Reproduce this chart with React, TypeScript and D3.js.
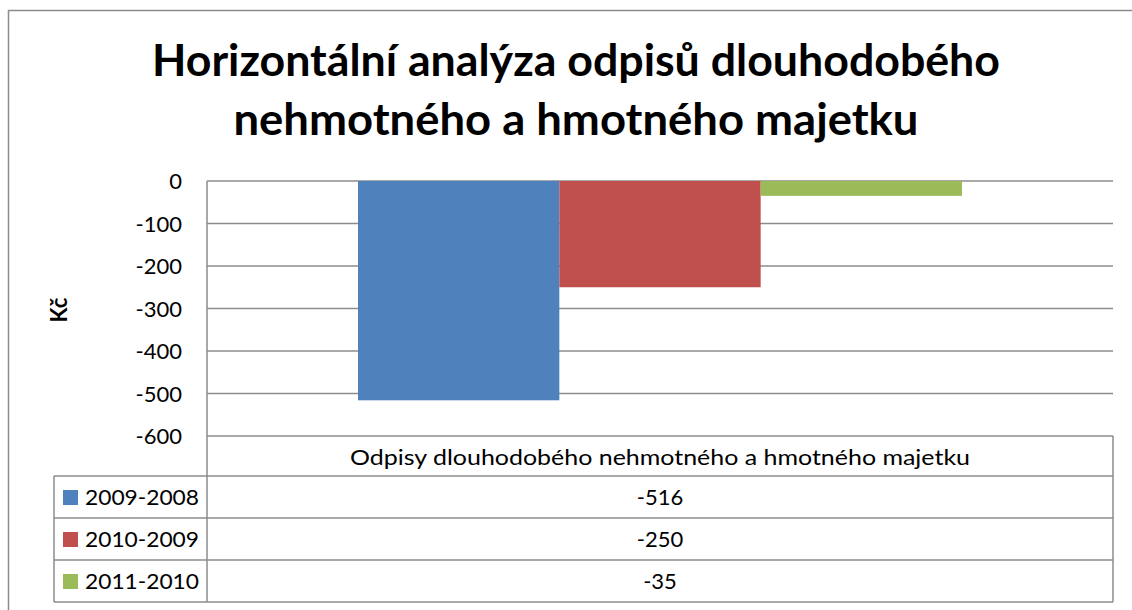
import React from 'react';
import * as d3 from 'd3';

// data
const categories = ['Odpisy dlouhodobého nehmotného a hmotného majetku'];
const seriesNames = ['2009-2008', '2010-2009', '2011-2010'];
const seriesValues = [-516, -250, -35];
const seriesColors = ['#4F81BD', '#C0504D', '#9BBB59'];
const yTicks = [0, -100, -200, -300, -400, -500, -600];
const titleLines = ['Horizontální analýza odpisů dlouhodobého', 'nehmotného a hmotného majetku'];

const font = 'Lato, "Open Sans", "DejaVu Sans", sans-serif';
const gridColor = '#8c8c8c';
const labelSize = 22;

function App() {
    const width = 1132;
    const height = 610;

    const plotLeft = 207;
    const plotRight = 1113;
    const plotTop = 181;
    const plotBottom = 436;

    const y = d3.scaleLinear().domain([-600, 0]).range([plotBottom, plotTop]);

    const x0 = d3.scaleBand().domain(categories).range([plotLeft, plotRight]).padding(0);
    const bw = x0.bandwidth();
    const x1 = d3.scaleBand().domain(seriesNames).range([bw / 6, bw * 5 / 6]).padding(0);

    // table below the plot
    const headerBottom = 476;
    const rowH = 42;
    const legendLeft = 54;
    const tableBottom = headerBottom + rowH * seriesNames.length;
    const catCenter = (x0(categories[0]) ?? 0) + bw / 2;

    return (
        <svg width={width} height={height} style={{ position: 'absolute', left: 0, top: 0, background: '#fff' }}>
            <rect x={8.5} y={10.5} width={1140} height={620} fill="#fff" stroke={gridColor} strokeWidth={1.5} />

            {titleLines.map((t, i) => (
                <text key={t} x={576} y={76 + i * 59} textAnchor="middle" fontFamily={font} fontWeight="bold"
                    fontSize={44} fill="#000" textLength={i === 0 ? 848 : 685} lengthAdjust="spacingAndGlyphs">
                    {t}
                </text>
            ))}

            {yTicks.map(t => (
                <g key={t}>
                    <line x1={plotLeft} x2={plotRight} y1={y(t)} y2={y(t)} stroke={gridColor} strokeWidth={1.5} />
                    <text x={182} y={y(t) + 8} textAnchor="end" fontFamily={font} fontSize={labelSize} fill="#000">{t}</text>
                </g>
            ))}

            <text transform={`translate(67, 310) rotate(-90)`} textAnchor="middle" fontFamily={font}
                fontWeight="bold" fontSize={labelSize} fill="#000">Kč</text>

            {categories.map(c => (
                <g key={c} transform={`translate(${x0(c)},0)`}>
                    {seriesNames.map((s, i) => (
                        <rect key={s} x={x1(s)} width={x1.bandwidth()} y={y(0)}
                            height={y(seriesValues[i]) - y(0)} fill={seriesColors[i]} />
                    ))}
                </g>
            ))}

            {/* data table */}
            <line x1={plotLeft} x2={plotLeft} y1={plotTop} y2={tableBottom} stroke={gridColor} strokeWidth={1.5} />
            <line x1={plotRight} x2={plotRight} y1={plotBottom} y2={tableBottom} stroke={gridColor} strokeWidth={1.5} />
            <line x1={legendLeft} x2={legendLeft} y1={headerBottom} y2={tableBottom} stroke={gridColor} strokeWidth={1.5} />
            {d3.range(seriesNames.length + 1).map(i => (
                <line key={i} x1={legendLeft} x2={plotRight} y1={headerBottom + i * rowH} y2={headerBottom + i * rowH}
                    stroke={gridColor} strokeWidth={1.5} />
            ))}
            <text x={catCenter} y={plotBottom + 29} textAnchor="middle" fontFamily={font} fontSize={labelSize} fill="#000"
                textLength={620} lengthAdjust="spacingAndGlyphs">{categories[0]}</text>

            {seriesNames.map((s, i) => {
                const top = headerBottom + i * rowH;
                return (
                    <g key={s}>
                        <rect x={63} y={top + 14} width={15} height={15} fill={seriesColors[i]} />
                        <text x={85} y={top + 29} fontFamily={font} fontSize={labelSize} fill="#000"
                            textLength={114} lengthAdjust="spacingAndGlyphs">{s}</text>
                        <text x={catCenter} y={top + 29} textAnchor="middle" fontFamily={font} fontSize={labelSize} fill="#000">
                            {seriesValues[i]}
                        </text>
                    </g>
                );
            })}
        </svg>
    );
}

export default App;
